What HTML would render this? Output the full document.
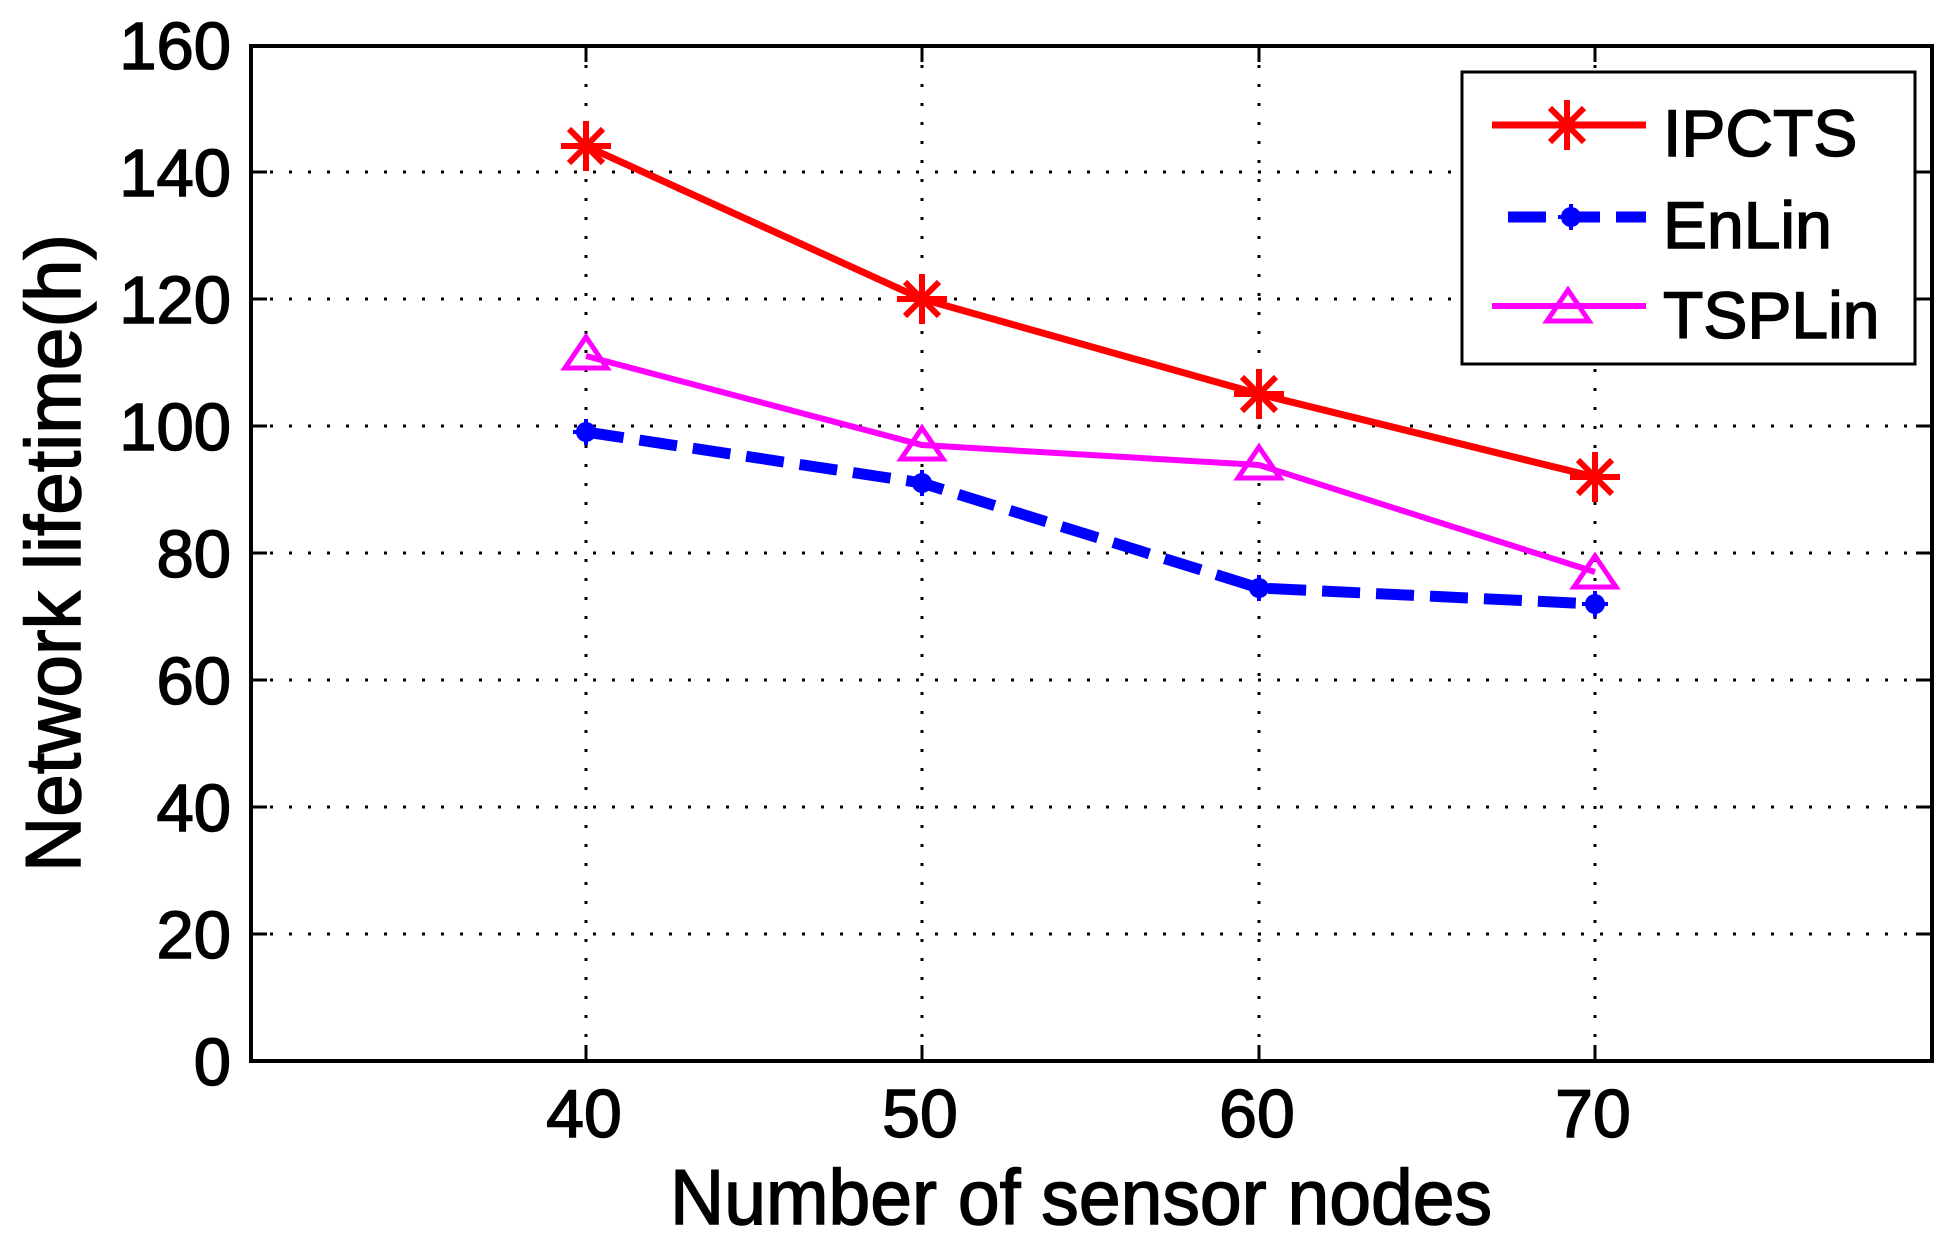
<!DOCTYPE html>
<html><head><meta charset="utf-8"><style>html,body{margin:0;padding:0;background:#fff}svg{display:block}</style></head>
<body>
<svg width="1960" height="1260" viewBox="0 0 1960 1260" xmlns="http://www.w3.org/2000/svg" font-family="Liberation Sans, Arial, sans-serif">
<rect width="1960" height="1260" fill="#fff"/>
<defs>
<g id="star"><path d="M-25 0H25M0 -25V25M-17 -17L17 17M-17 17L17 -17" stroke="#f00" stroke-width="6" fill="none"/></g>
<g id="tri"><path d="M0 -16L21 15H-21Z" stroke="#f0f" stroke-width="5" fill="none"/></g>
<g id="dot"><circle r="10" fill="#00f"/><path d="M0 -13V13M-13 0H13" stroke="#00f" stroke-width="4"/></g>
</defs>
<g stroke="#000" stroke-width="3" stroke-dasharray="3 16" fill="none">
<path d="M251 934H1932M251 807H1932M251 680H1932M251 553H1932M251 426H1932M251 299H1932M251 172H1932"/>
<path d="M586 46V1061M922 46V1061M1259 46V1061M1595 46V1061"/>
</g>
<g stroke="#000" stroke-width="3">
<path d="M586 1061v-16M922 1061v-16M1259 1061v-16M1595 1061v-16M586 46v16M922 46v16M1259 46v16M1595 46v16"/>
<path d="M251 934h16M251 807h16M251 680h16M251 553h16M251 426h16M251 299h16M251 172h16"/>
<path d="M1932 934h-16M1932 807h-16M1932 680h-16M1932 553h-16M1932 426h-16M1932 299h-16M1932 172h-16"/>
</g>
<rect x="251" y="46" width="1681" height="1015" fill="none" stroke="#000" stroke-width="4"/>
<polyline points="586,146 922,299 1259,394 1595,477" fill="none" stroke="#f00" stroke-width="7"/>
<polyline points="586,356 922,445 1259,465 1595,572" fill="none" stroke="#f0f" stroke-width="6"/>
<polyline points="586,432 922,483 1259,588 1595,604" fill="none" stroke="#00f" stroke-width="11" stroke-dasharray="38 16"/>
<use href="#star" x="586" y="146"/><use href="#star" x="922" y="299"/><use href="#star" x="1259" y="394"/><use href="#star" x="1595" y="477"/>
<use href="#tri" x="586" y="353"/><use href="#tri" x="922" y="444"/><use href="#tri" x="1259" y="463"/><use href="#tri" x="1595" y="572"/>
<use href="#dot" x="586" y="432"/><use href="#dot" x="922" y="483"/><use href="#dot" x="1259" y="588"/><use href="#dot" x="1595" y="604"/>
<g fill="#000" stroke="#000" stroke-width="1.5">
<g font-size="67" text-anchor="end">
<text x="231" y="1085">0</text><text x="231" y="958">20</text><text x="231" y="831">40</text><text x="231" y="704">60</text>
<text x="231" y="577">80</text><text x="231" y="450">100</text><text x="231" y="323">120</text><text x="231" y="196">140</text><text x="231" y="69">160</text>
</g>
<g font-size="68" text-anchor="middle">
<text x="584" y="1137">40</text><text x="920" y="1137">50</text><text x="1257" y="1137">60</text><text x="1593" y="1137">70</text>
</g>
<text x="1081" y="1224" font-size="78" text-anchor="middle" textLength="822" lengthAdjust="spacingAndGlyphs">Number of sensor nodes</text>
<text transform="translate(80,553) rotate(-90)" font-size="78" text-anchor="middle" textLength="638" lengthAdjust="spacingAndGlyphs">Network lifetime(h)</text>
</g>
<rect x="1462" y="72" width="453" height="292" fill="#fff" stroke="#000" stroke-width="3"/>
<path d="M1492 125H1646" stroke="#f00" stroke-width="7"/><use href="#star" x="1567" y="125"/>
<path d="M1508 217H1646" stroke="#00f" stroke-width="11" stroke-dasharray="38 16"/><use href="#dot" x="1571" y="217"/>
<path d="M1492 306H1646" stroke="#f0f" stroke-width="6"/><use href="#tri" x="1568" y="306"/>
<g font-size="66" stroke="#000" stroke-width="1.5"><text x="1663" y="156">IPCTS</text><text x="1663" y="248">EnLin</text><text x="1663" y="338">TSPLin</text></g>
</svg>
</body></html>
